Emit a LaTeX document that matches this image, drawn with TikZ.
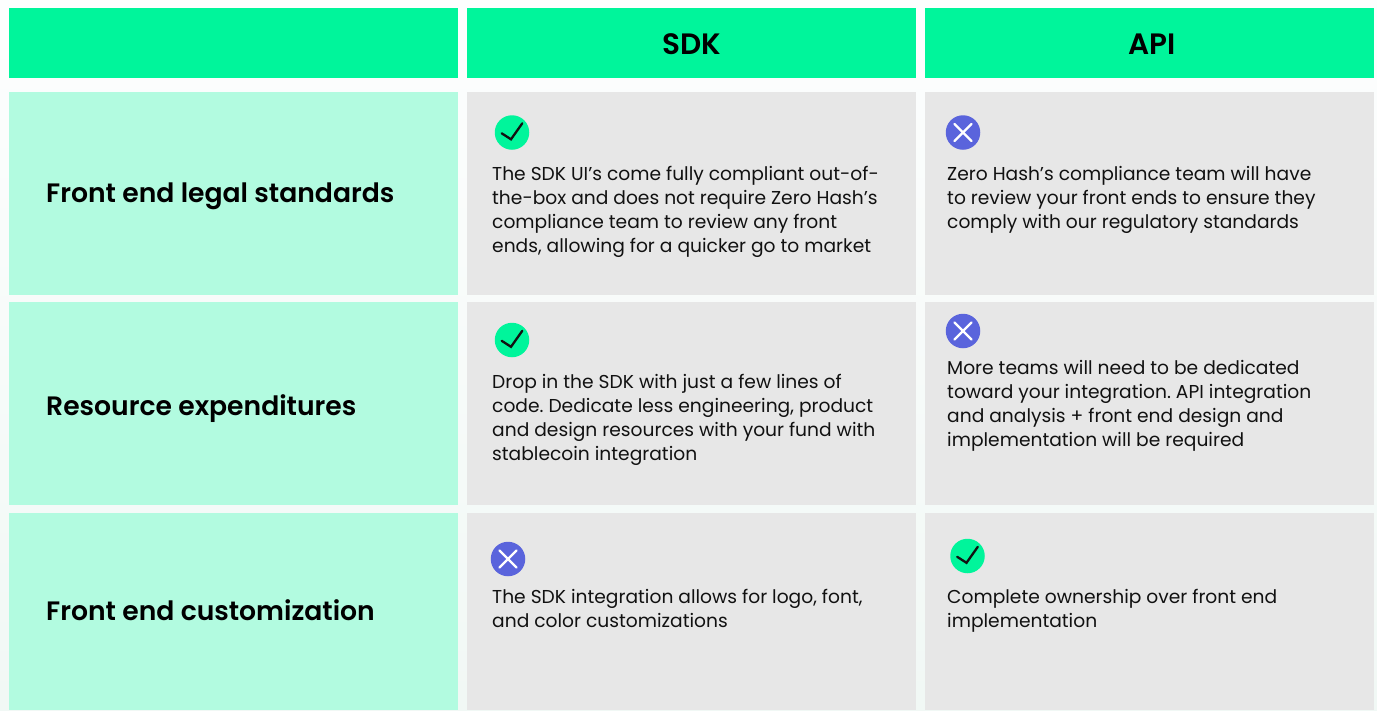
\documentclass[tikz,border=0pt]{standalone}
\usepackage{fontspec}
\setmainfont{Poppins}[BoldFont={Poppins SemiBold}]
\frenchspacing
\definecolor{headgreen}{HTML}{00F59B}
\definecolor{rowmint}{HTML}{B2FBE0}
\definecolor{cellgrey}{HTML}{E7E7E7}
\definecolor{crossblue}{HTML}{5A64DC}
\definecolor{inkblack}{HTML}{111111}
\definecolor{bgtop}{HTML}{FDFEFE}
\definecolor{bgbot}{HTML}{F1F8F5}
\tikzset{
  x=1pt,y=-1pt,
  cellbox/.style={draw=none,inner sep=0pt,minimum width=449pt,anchor=north west},
  headcell/.style={cellbox,fill=headgreen,minimum height=70pt},
  headtext/.style={inner sep=0pt,text=black,font=\fontsize{29.5}{32}\selectfont\bfseries},
  rowcell/.style={cellbox,fill=rowmint},
  greycell/.style={cellbox,fill=cellgrey},
  rowtitle/.style={anchor=west,inner sep=0pt,font=\fontsize{26.63}{30}\selectfont\bfseries,text=black},
  bodytext/.style={anchor=north west,inner sep=0pt,align=left,text=inkblack,font=\fontsize{18.66}{24}\selectfont},
  okdot/.style={circle,fill=headgreen,minimum size=34.5pt,inner sep=0pt},
  nodot/.style={circle,fill=crossblue,minimum size=34.5pt,inner sep=0pt},
  tickline/.style={draw=inkblack,line width=2.3pt,line cap=round,line join=miter},
  crossline/.style={draw=white,line width=2.3pt,line cap=round},
}
\newcommand{\oktick}[1]{\draw[tickline] ([shift={(-10.3pt,-0.8pt)}]#1.center) -- ([shift={(-1pt,-6.8pt)}]#1.center) -- ([shift={(10.3pt,9.2pt)}]#1.center);}
\newcommand{\nocross}[1]{%
  \draw[crossline] ([shift={(-8.5pt,-8.5pt)}]#1.center) -- ([shift={(8.5pt,8.5pt)}]#1.center);
  \draw[crossline] ([shift={(-8.5pt,8.5pt)}]#1.center) -- ([shift={(8.5pt,-8.5pt)}]#1.center);}
\begin{document}
\begin{tikzpicture}
\useasboundingbox (0,0) rectangle (1377,710);
\shade[top color=bgtop,bottom color=bgbot,middle color=bgtop!50!bgbot] (0,0) rectangle (1377,710);
% header
\node[headcell] (h0) at (9,8) {};
\node[headcell] (h1) at (467,8) {};
\node[headcell] (h2) at (925,8) {};
\node[headtext] (t1) at (692,44) {SDK};
\node[headtext] (t2) at (1152,44) {API};
% row 1
\node[rowcell,minimum height=203pt] (a0) at (9,92) {};
\node[greycell,minimum height=203pt] (a1) at (467,92) {};
\node[greycell,minimum height=203pt] (a2) at (925,92) {};
% row 2
\node[rowcell,minimum height=203pt] (b0) at (9,302) {};
\node[greycell,minimum height=203pt] (b1) at (467,302) {};
\node[greycell,minimum height=203pt] (b2) at (925,302) {};
% row 3
\node[rowcell,minimum height=197pt] (c0) at (9,513) {};
\node[greycell,minimum height=197pt] (c1) at (467,513) {};
\node[greycell,minimum height=197pt] (c2) at (925,513) {};
% titles
\node[rowtitle] (ta) at (46,196.7) {Front end legal standards};
\node[rowtitle] (tb) at (46,408.7) {Resource expenditures};
\node[rowtitle] (tc) at (46,610.3) {Front end customization};
% icons
\node[okdot] (ia1) at (512,132.5) {}; \oktick{ia1}
\node[nodot] (ia2) at (963,132.5) {}; \nocross{ia2}
\node[okdot] (ib1) at (512,340) {}; \oktick{ib1}
\node[nodot] (ib2) at (963,331) {}; \nocross{ib2}
\node[nodot] (ic1) at (508,559) {}; \nocross{ic1}
\node[okdot] (ic2) at (967.5,556) {}; \oktick{ic2}
% text
\node[bodytext] (xa1) at (492,166) {The SDK UI’s come fully compliant out-of-\\the-box and does not require Zero Hash’s\\compliance team to review any front\\ends, allowing for a quicker go to market};
\node[bodytext] (xa2) at (947,166) {Zero Hash’s compliance team will have\\to review your front ends to ensure they\\comply with our regulatory standards};
\node[bodytext] (xb1) at (492,374) {Drop in the SDK with just a few lines of\\code. Dedicate less engineering, product\\and design resources with your fund with\\stablecoin integration};
\node[bodytext] (xb2) at (947,360) {More teams will need to be dedicated\\toward your integration. API integration\\and analysis + front end design and\\implementation will be required};
\node[bodytext] (xc1) at (492,589) {The SDK integration allows for logo, font,\\and color customizations};
\node[bodytext] (xc2) at (947,589) {Complete ownership over front end\\implementation};
\end{tikzpicture}
\end{document}
